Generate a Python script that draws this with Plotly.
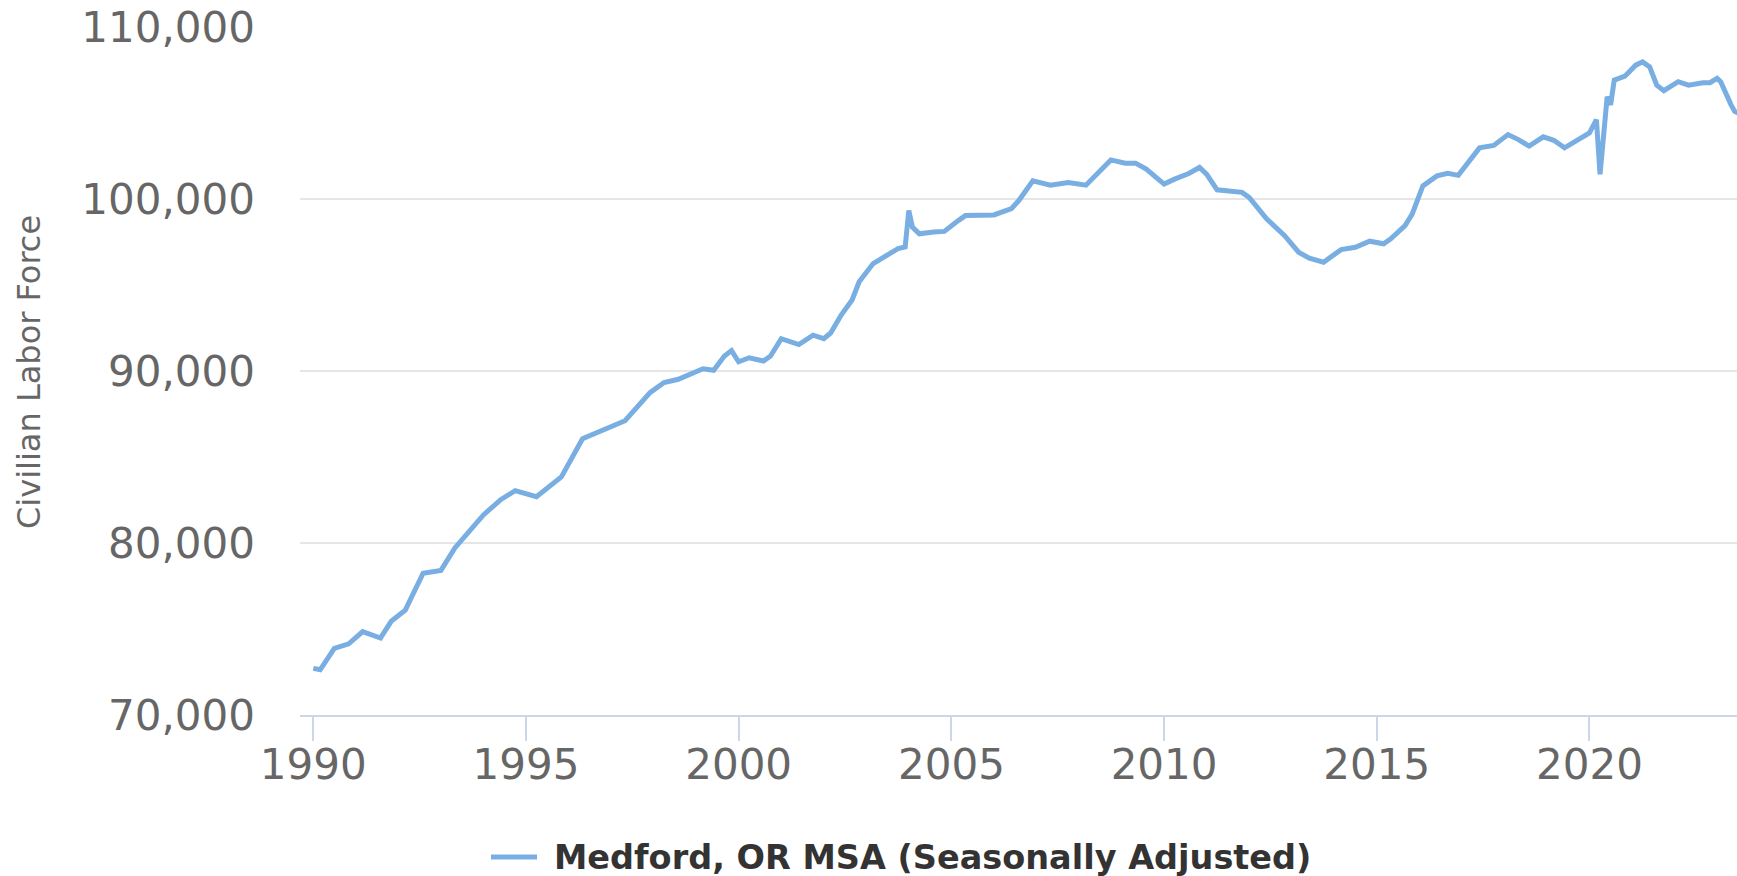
import plotly.graph_objects as go

# Medford, OR MSA civilian labor force (seasonally adjusted)
dates = [
    "1990-01", "1990-03", "1990-07", "1990-11", "1991-03", "1991-08", "1991-11",
    "1992-03", "1992-08", "1993-01", "1993-05", "1993-09", "1994-01", "1994-06",
    "1994-10", "1995-04", "1995-08", "1995-11", "1996-05", "1996-10", "1997-02",
    "1997-05", "1997-12", "1998-04", "1998-08", "1998-11", "1999-03", "1999-06",
    "1999-09", "1999-11", "2000-01", "2000-04", "2000-08", "2000-10", "2001-01",
    "2001-06", "2001-10", "2002-01", "2002-03", "2002-06", "2002-09", "2002-11",
    "2003-03", "2003-06", "2003-10", "2003-12", "2004-01", "2004-02", "2004-04",
    "2004-08", "2004-11", "2005-03", "2005-05", "2006-01", "2006-06", "2006-08",
    "2006-12", "2007-05", "2007-10", "2008-03", "2008-06", "2008-10", "2009-02",
    "2009-05", "2009-08", "2010-01", "2010-04", "2010-08", "2010-11", "2011-01",
    "2011-04", "2011-11", "2012-01", "2012-06", "2012-11", "2013-03", "2013-06",
    "2013-10", "2014-03", "2014-07", "2014-11", "2015-03", "2015-05", "2015-09",
    "2015-11", "2016-02", "2016-06", "2016-09", "2016-12", "2017-03", "2017-06",
    "2017-10", "2018-02", "2018-05", "2018-08", "2018-12", "2019-03", "2019-06",
    "2019-10", "2020-01", "2020-03", "2020-04", "2020-05", "2020-06", "2020-07",
    "2020-08", "2020-11", "2021-02", "2021-04", "2021-06", "2021-08", "2021-10",
    "2022-02", "2022-05", "2022-09", "2022-11", "2023-01", "2023-02", "2023-05",
    "2023-06", "2023-08",
]
labor_force = [
    72700, 72620, 73870, 74130, 74840, 74470, 75440,
    76090, 78240, 78400, 79710, 80720, 81630, 82530,
    83040, 82690, 83380, 83840, 86060, 86520, 86860,
    87110, 88740, 89330, 89520, 89810, 90130, 90040,
    90870, 91190, 90540, 90770, 90580, 90870, 91880,
    91540, 92080, 91880, 92210, 93270, 94130, 95190,
    96250, 96630, 97120, 97210, 99330, 98370, 97980,
    98080, 98120, 98750, 99040, 99080, 99450, 99900,
    101060, 100810, 100970, 100810, 101450, 102280, 102090,
    102090, 101740, 100870, 101160, 101490, 101840, 101450,
    100540, 100390, 100100, 98840, 97870, 96910, 96560,
    96330, 97060, 97200, 97550, 97400, 97690, 98460,
    99130, 100770, 101350, 101500, 101380, 102120, 102980,
    103120, 103750, 103460, 103080, 103620, 103420, 102980,
    103460, 103850, 104620, 101440, 103650, 105960, 105480,
    106920, 107150, 107790, 107980, 107690, 106630, 106310,
    106830, 106630, 106770, 106770, 107020, 106830, 105480,
    105100, 104900,
]
series_name = "Medford, OR MSA (Seasonally Adjusted)"
y_ticks = [70000, 80000, 90000, 100000, 110000]
x_ticks = ["1990-01-01", "1995-01-01", "2000-01-01", "2005-01-01",
           "2010-01-01", "2015-01-01", "2020-01-01"]
x_tick_text = ["1990", "1995", "2000", "2005", "2010", "2015", "2020"]

FONT = "DejaVu Sans"
LINE_COLOR = "#78aee2"
W, H = 1737, 876
ML, MR, MT, MB = 300, 0, 27, 161
PW = W - ML - MR
PH = H - MT - MB


def px_x(px):
    return (px - ML) / PW


def px_y(py):
    return (MT + PH - py) / PH


fig = go.Figure()
fig.add_trace(go.Scatter(
    x=dates, y=labor_force, mode="lines", name=series_name,
    line=dict(color=LINE_COLOR, width=5),
    showlegend=False,
))

LEG_Y = 857
fig.update_layout(
    width=W, height=H,
    margin=dict(l=ML, r=MR, t=MT, b=MB, pad=0),
    paper_bgcolor="white", plot_bgcolor="white",
    font=dict(family=FONT, color="#666666"),
    showlegend=False,
    xaxis=dict(
        type="date",
        range=["1989-09-09", "2023-06-21"],
        tickvals=x_ticks, ticktext=x_tick_text,
        ticks="outside", ticklen=24, tickwidth=2, tickcolor="#ccd6eb",
        ticklabelstandoff=-12,
        showline=True, linecolor="#ccd6eb", linewidth=2,
        showgrid=False, zeroline=False,
        tickfont=dict(family=FONT, size=42, color="#666666"),
    ),
    yaxis=dict(
        range=[69990, 110010],
        tickvals=y_ticks, tickformat=",",
        showgrid=True, gridcolor="#e6e6e6", gridwidth=2,
        showline=False, zeroline=False, ticks="",
        ticklabelstandoff=44,
        tickfont=dict(family=FONT, size=42, color="#666666"),
    ),
    shapes=[dict(
        type="line", xref="paper", yref="paper",
        x0=px_x(491), x1=px_x(537), y0=px_y(LEG_Y), y1=px_y(LEG_Y),
        line=dict(color=LINE_COLOR, width=5),
    )],
    annotations=[
        dict(
            text="Civilian Labor Force", textangle=-90,
            xref="paper", yref="paper",
            x=px_x(29), y=px_y(372),
            xanchor="center", yanchor="middle", showarrow=False,
            font=dict(family=FONT, size=32, color="#666666"),
        ),
        dict(
            text=series_name,
            xref="paper", yref="paper",
            x=px_x(552), y=px_y(LEG_Y),
            xanchor="left", yanchor="middle", showarrow=False,
            font=dict(family=FONT, size=33.5, color="#333333", weight="bold"),
        ),
    ],
)

fig.write_html("out.html", config={"displayModeBar": False},
               post_script="document.body.style.margin='0';")
